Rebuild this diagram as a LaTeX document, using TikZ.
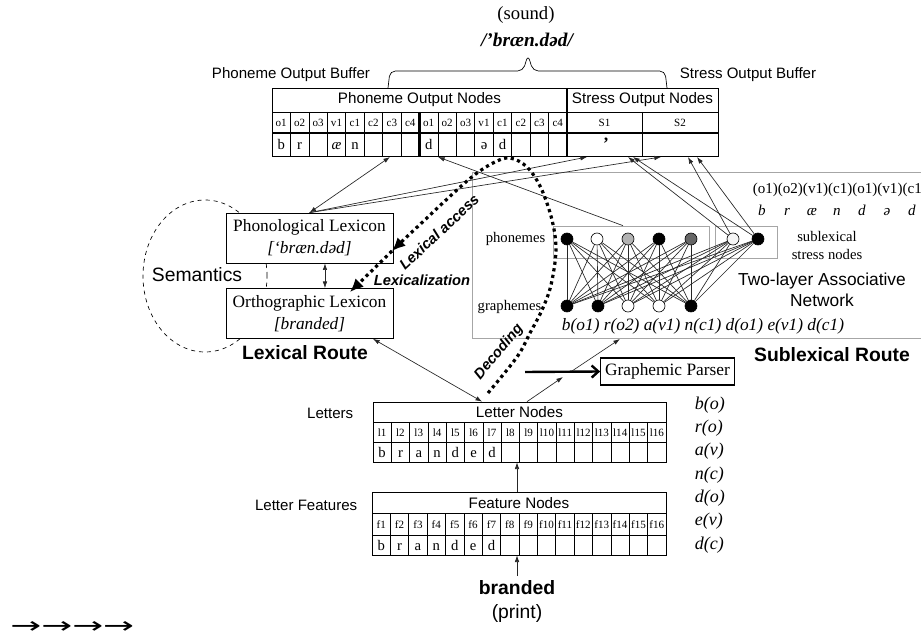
\documentclass[tikz,border=0pt]{standalone}
\usepackage{fontspec}
\setmainfont{Liberation Serif}
\setsansfont{Liberation Sans}
\newfontfamily\arrowfont{DejaVu Sans}
\usetikzlibrary{arrows.meta, positioning, shapes.geometric}

\begin{document}
\begin{tikzpicture}[x=0.75pt, y=-0.75pt, line width=0.5pt,
    >={Latex[length=5pt, width=3.4pt]},
    lbl/.style={font=\sffamily\fontsize{11.3}{13}\selectfont},
    head/.style={font=\sffamily\fontsize{11.4}{13}\selectfont},
    big/.style={font=\sffamily\fontsize{14.5}{17}\selectfont},
    bigb/.style={font=\sffamily\bfseries\fontsize{14.5}{17}\selectfont},
    rtxt/.style={font=\sffamily\bfseries\itshape\fontsize{11}{13}\selectfont},
    cell/.style={font=\fontsize{8.3}{9}\selectfont, inner sep=0pt, anchor=base},
    ltr/.style={font=\fontsize{11}{12}\selectfont, inner sep=0pt, anchor=base},
    lexbox/.style={draw, fill=white, minimum width=125pt, minimum height=37.5pt, align=center, font=\fontsize{13}{16.5}\selectfont},
    unit/.style={circle, draw, minimum size=9pt, inner sep=0pt},
    route/.style={line width=2.4pt, dash pattern=on 2.4pt off 2.6pt},
    wire/.style={line width=0.5pt, black!85}]
\useasboundingbox (0,0) rectangle (921,634);

% spoken output
\node[font=\fontsize{14}{16}\selectfont] (sound) at (526,15) {(sound)};
\node[font=\bfseries\itshape\fontsize{14.5}{16}\selectfont] (ipa) at (527,40) {/’bræn.dəd/};
\draw[rounded corners=4pt] (388,88) -- (390,71) -- (523,71) -- (528,55) -- (533,71) -- (665,71) -- (667,88);
\node[lbl] (pobuf) at (291,75) {Phoneme Output Buffer};
\node[lbl] (sobuf) at (748,75) {Stress Output Buffer};

% output nodes
\node[draw, inner sep=0pt, minimum width=221.25pt, minimum height=51pt] (pout) at (419.5,122) {};
\node[draw, inner sep=0pt, minimum width=113.25pt, minimum height=51pt] (sout) at (642.5,122) {};
\node[head] (pohead) at (419.5,100) {Phoneme Output Nodes};
\node[head] (sohead) at (642.5,100) {Stress Output Nodes};
\draw (272,112) -- (718,112);
\foreach \i in {1,...,15}
  \draw (272+18.4375*\i,112) -- ++(0,44);
\draw (642,112) -- (642,156);
\draw[line width=1.6pt] (272,133) -- (718,133);
\draw[line width=1pt] (567,88) -- (567,156);
\draw[line width=1.6pt] (419.5,112) -- (419.5,156);
\foreach \t [count=\i from 0] in {o1,o2,o3,v1,c1,c2,c3,c4,o1,o2,o3,v1,c1,c2,c3,c4}
  \node[cell] at (281.2+18.4375*\i,127) {\t};
\foreach \t/\i in {b/0, r/1, \textit{æ}/3, n/4, d/8, ə/11, d/12}
  \node[ltr] at (281.2+18.4375*\i,150) {\t};
\node[cell] (s1txt) at (604.5,127) {S1};
\node[cell] (s2txt) at (680,127) {S2};
\node[font=\bfseries\fontsize{13}{13}\selectfont, inner sep=0pt, anchor=base] (strmark) at (606,150) {’};

% sublexical route
\draw[black!35] (925,172) -- (472,172) -- (472,338) -- (925,338);
\node[draw=black!35, minimum width=117pt, minimum height=24pt] (pbox) at (631,242) {};
\node[draw=black!35, minimum width=46.5pt, minimum height=24pt] (sbox) at (746,242) {};
\foreach \x/\c [count=\i] in {567/black, 597/white, 628/black!30, 659/black, 691/black!60}
  \node[unit, fill=\c] (p\i) at (\x,239) {};
\node[unit, fill=black!4] (s1) at (733,239) {};
\node[unit, fill=black] (s2) at (758,239) {};
\foreach \x/\c [count=\i] in {567/black, 598/black, 628/white, 659/white, 691/black}
  \node[unit, fill=\c] (g\i) at (\x,306) {};
\foreach \i in {1,...,5}
  \foreach \j in {p1,p2,p3,p4,p5,s1,s2}
    \draw[wire] (g\i) -- (\j);
\node[font=\fontsize{11}{13}\selectfont, anchor=east] (phtxt) at (550,239) {phonemes};
\node[font=\fontsize{11}{13}\selectfont, anchor=east] (grtxt) at (546,307) {graphemes};
\node[align=center, font=\fontsize{11}{13.5}\selectfont] (sstxt) at (827,245) {sublexical\\stress nodes};
\node[align=center, font=\sffamily\fontsize{13}{15.75}\selectfont] (tlan) at (822,290) {Two-layer Associative\\Network};
\node[anchor=west, font=\fontsize{11.3}{13}\selectfont] (slots) at (748,190) {(o1)(o2)(v1)(c1)(o1)(v1)(c1};
\foreach \t [count=\i from 0] in {b,r,æ,n,d,ə,d}
  \node[font=\itshape\fontsize{11.3}{13}\selectfont, anchor=base] at (762+25*\i,216) {\t};
\node[font=\itshape\fontsize{13}{15}\selectfont] (gseq) at (703,326) {b(o1) r(o2) a(v1) n(c1) d(o1) e(v1) d(c1)};
\node[bigb] (subroute) at (832,355) {Sublexical Route};

\coordinate (pd) at (438,157);
\coordinate (sa2) at (628,157);
\coordinate (sa3) at (633,157);
\coordinate (sb2) at (688,157);
\coordinate (sb3) at (697,157);
\draw[->, wire] ([xshift=-6pt]pbox.north) -- (pd);
\draw[->, wire] (s1) -- (sa2);
\draw[->, wire] (s1) -- (sb2);
\draw[->, wire] (s2) -- (sa3);
\draw[->, wire] (s2) -- (sb3);

% lexical route
\node[draw, dashed, ellipse, minimum width=93pt, minimum height=114pt] (sem) at (205,276) {};
\node[big] (semtxt) at (197,275) {Semantics};
\node[lexbox] (phlex) at (309.5,238) {Phonological Lexicon\\{\itshape [‘bræn.dəd]}};
\node[lexbox] (orlex) at (309.5,313.5) {Orthographic Lexicon\\{\itshape [branded]}};
\node[bigb] (lexroute) at (305,353) {Lexical Route};
\coordinate (pc3) at (390,157);
\coordinate (sa1) at (587,157);
\coordinate (sb1) at (661,157);
\draw[<->, wire] (phlex.north) -- (pc3);
\draw[->, wire] (phlex.north) -- (sa1);
\draw[->, wire] (phlex.north) -- (sb1);
\draw[<->, wire] ([xshift=11.6pt]phlex.south) -- ([xshift=11.6pt]orlex.north);

% letters
\node[draw, inner sep=0pt, minimum width=219.75pt, minimum height=45pt] (lnodes) at (519.5,432) {};
\node[head] (lnhead) at (519.5,412) {Letter Nodes};
\draw (373,422) -- (666,422);
\draw (373,442) -- (666,442);
\foreach \i in {1,...,15}
  \draw (373+18.3125*\i,422) -- ++(0,40);
\foreach \i in {1,...,16}
  \node[cell] at (363.84+18.3125*\i,436) {l\i};
\foreach \t [count=\i from 0] in {b,r,a,n,d,e,d}
  \node[ltr] at (382.16+18.3125*\i,457) {\t};
\node[lbl, anchor=east] (lettxt) at (358,413) {Letters};

% features
\node[draw, inner sep=0pt, minimum width=220.5pt, minimum height=47.25pt] (fnodes) at (519,523.5) {};
\node[head] (fnhead) at (519,503) {Feature Nodes};
\draw (372,513) -- (666,513);
\draw (372,535) -- (666,535);
\foreach \i in {1,...,15}
  \draw (372+18.375*\i,513) -- ++(0,42);
\foreach \i in {1,...,16}
  \node[cell] at (362.81+18.375*\i,528) {f\i};
\foreach \t [count=\i from 0] in {b,r,a,n,d,e,d}
  \node[ltr] at (381.19+18.375*\i,550) {\t};
\node[lbl, anchor=east] (feattxt) at (362,505) {Letter Features};

\node[bigb] (brand) at (517,588) {branded};
\node[big] (print) at (517,613) {(print)};
\draw[->, wire] (brand.north) -- (brand.north |- fnodes.south);
\draw[->, wire] (fnodes.north -| brand.north) -- (brand.north |- lnodes.south);
\draw[<->, wire] ([xshift=47.6pt]orlex.south) -- ([xshift=-28pt]lnodes.north);

% graphemic parser
\node[draw, line width=0.9pt, minimum width=96.75pt, minimum height=20.25pt, font=\fontsize{13}{15}\selectfont] (gparse) at (667.5,371.5) {Graphemic Parser};
\coordinate (tk) at (525,372);
\draw[line width=1.8pt, -{Straight Barb[length=5pt, width=9pt]}] (tk) -- (gparse.west);
\coordinate (gp1) at (563,377);
\coordinate (gp2) at (572,371);
\coordinate (subin) at (620,339);
\draw[->, wire] ([xshift=5.6pt]lnodes.north) -- (gp1);
\draw[->, wire] (gp2) -- (subin);

\foreach \t [count=\i from 0] in {b(o),r(o),a(v),n(c),d(o),e(v),d(c)}
  \node[font=\itshape\fontsize{13.5}{15}\selectfont, anchor=west] at (690,405+23.3*\i) {\t};

% reading routes
\coordinate (dec) at (488,393);
\coordinate (lexacc) at (392,251);
\coordinate (lexz) at (350,292);
\draw[route, -{Latex[length=10pt, width=9pt]}] plot[smooth, tension=0.55] coordinates {(dec) (517,357) (530,333) (542,310) (551,285) (556,250) (552,220) (541,188) (527,167) (510,158) (493,163) (467,181) (413,231) (lexacc)};
\draw[route, -{Latex[length=10pt, width=9pt]}] (lexacc) -- (lexz);
\node[rtxt, rotate=43] (latxt) at (439,232) {Lexical access};
\node[rtxt] (lztxt) at (422,280) {Lexicalization};
\node[rtxt, rotate=50] (dectxt) at (499,352) {Decoding};

\node[font=\arrowfont\fontsize{17}{17}\selectfont, anchor=base west, inner sep=0pt] (arrs) at (10,633) {\scalebox{1.63}[1]{→→→→}};
\end{tikzpicture}
\end{document}
